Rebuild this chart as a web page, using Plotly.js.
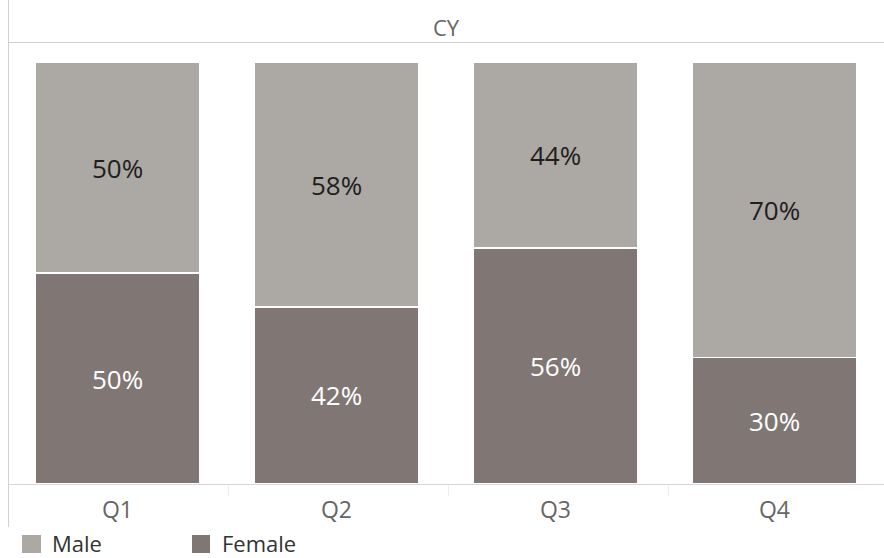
<!DOCTYPE html>
<html>
<head>
<meta charset="utf-8">
<script src="https://cdn.plot.ly/plotly-3.0.1.min.js"></script>
<style>html,body{margin:0;padding:0;background:#fff;}#chart{width:884px;height:558px;}</style>
</head>
<body>
<div id="chart"></div>
<script>
var quarters = ["Q1", "Q2", "Q3", "Q4"];
var malePct = [50, 58, 44, 70];
var femalePct = [50, 42, 56, 30];
var seriesNames = ["Male", "Female"];
var headerLabel = "CY";

var maleColor = "#aca8a3";
var femaleColor = "#807775";
var W = 884, H = 558, ML = 8, MR = 0, MT = 43, MB = 74;
var PW = W - ML - MR, PH = H - MT - MB;
function px(x) { return (x - ML) / PW; }
function py(y) { return (H - MB - y) / PH; }
var FONT = "Open Sans, Noto Sans, DejaVu Sans, sans-serif";

var traces = [
  {
    type: "bar", name: seriesNames[1], x: quarters, y: femalePct,
    marker: {color: femaleColor, line: {color: "#ffffff", width: 1.5}},
    texttemplate: "%{y}%", textposition: "inside", insidetextanchor: "middle",
    textfont: {color: "#ffffff", size: 26, family: FONT},
    hoverinfo: "x+y+name", showlegend: false
  },
  {
    type: "bar", name: seriesNames[0], x: quarters, y: malePct,
    marker: {color: maleColor, line: {color: "#ffffff", width: 1.5}},
    texttemplate: "%{y}%", textposition: "inside", insidetextanchor: "middle",
    textfont: {color: "#1e1e1e", size: 26, family: FONT},
    hoverinfo: "x+y+name", showlegend: false
  }
];

var shapes = [
  {type: "line", xref: "paper", yref: "paper", x0: px(8.5), x1: px(8.5), y0: py(0), y1: py(527), line: {color: "#d0d0d0", width: 1}},
  {type: "line", xref: "paper", yref: "paper", x0: px(8), x1: px(884), y0: py(42.5), y1: py(42.5), line: {color: "#d0d0d0", width: 1}},
  {type: "line", xref: "paper", yref: "paper", x0: px(8), x1: px(884), y0: py(484.5), y1: py(484.5), line: {color: "#d8d8d8", width: 1.2}},
  {type: "line", xref: "paper", yref: "paper", x0: px(228.5), x1: px(228.5), y0: py(485), y1: py(496), line: {color: "#ececec", width: 1}},
  {type: "line", xref: "paper", yref: "paper", x0: px(448.5), x1: px(448.5), y0: py(485), y1: py(496), line: {color: "#ececec", width: 1}},
  {type: "line", xref: "paper", yref: "paper", x0: px(668.5), x1: px(668.5), y0: py(485), y1: py(496), line: {color: "#ececec", width: 1}},
  {type: "rect", xref: "paper", yref: "paper", x0: px(22), x1: px(41), y0: py(535), y1: py(553), fillcolor: maleColor, line: {width: 0}},
  {type: "rect", xref: "paper", yref: "paper", x0: px(192), x1: px(210), y0: py(535), y1: py(553), fillcolor: femaleColor, line: {width: 0}}
];

var annotations = [
  {xref: "paper", yref: "paper", x: 0.5, y: py(27), text: headerLabel, showarrow: false, xanchor: "center", yanchor: "middle", font: {size: 22, color: "#666666", family: FONT}},
  {xref: "paper", yref: "paper", x: px(51), y: py(543), text: seriesNames[0], showarrow: false, xanchor: "left", yanchor: "middle", borderpad: 0, font: {size: 22, color: "#333333", family: FONT}},
  {xref: "paper", yref: "paper", x: px(221), y: py(543), text: seriesNames[1], showarrow: false, xanchor: "left", yanchor: "middle", borderpad: 0, font: {size: 22, color: "#333333", family: FONT}}
];

var layout = {
  width: W, height: H,
  margin: {l: ML, r: MR, t: MT, b: MB, pad: 0},
  paper_bgcolor: "#ffffff", plot_bgcolor: "#ffffff",
  barmode: "stack", bargap: 0.25,
  showlegend: false,
  font: {family: FONT},
  xaxis: {
    type: "category", showgrid: false, zeroline: false, showline: false, ticks: "",
    tickfont: {size: 23, color: "#666666", family: FONT}, ticklabelstandoff: 10, fixedrange: true
  },
  yaxis: {range: [0, 104.6], visible: false, fixedrange: true},
  shapes: shapes,
  annotations: annotations
};

Plotly.newPlot("chart", traces, layout, {displayModeBar: false, staticPlot: true});
</script>
</body>
</html>
